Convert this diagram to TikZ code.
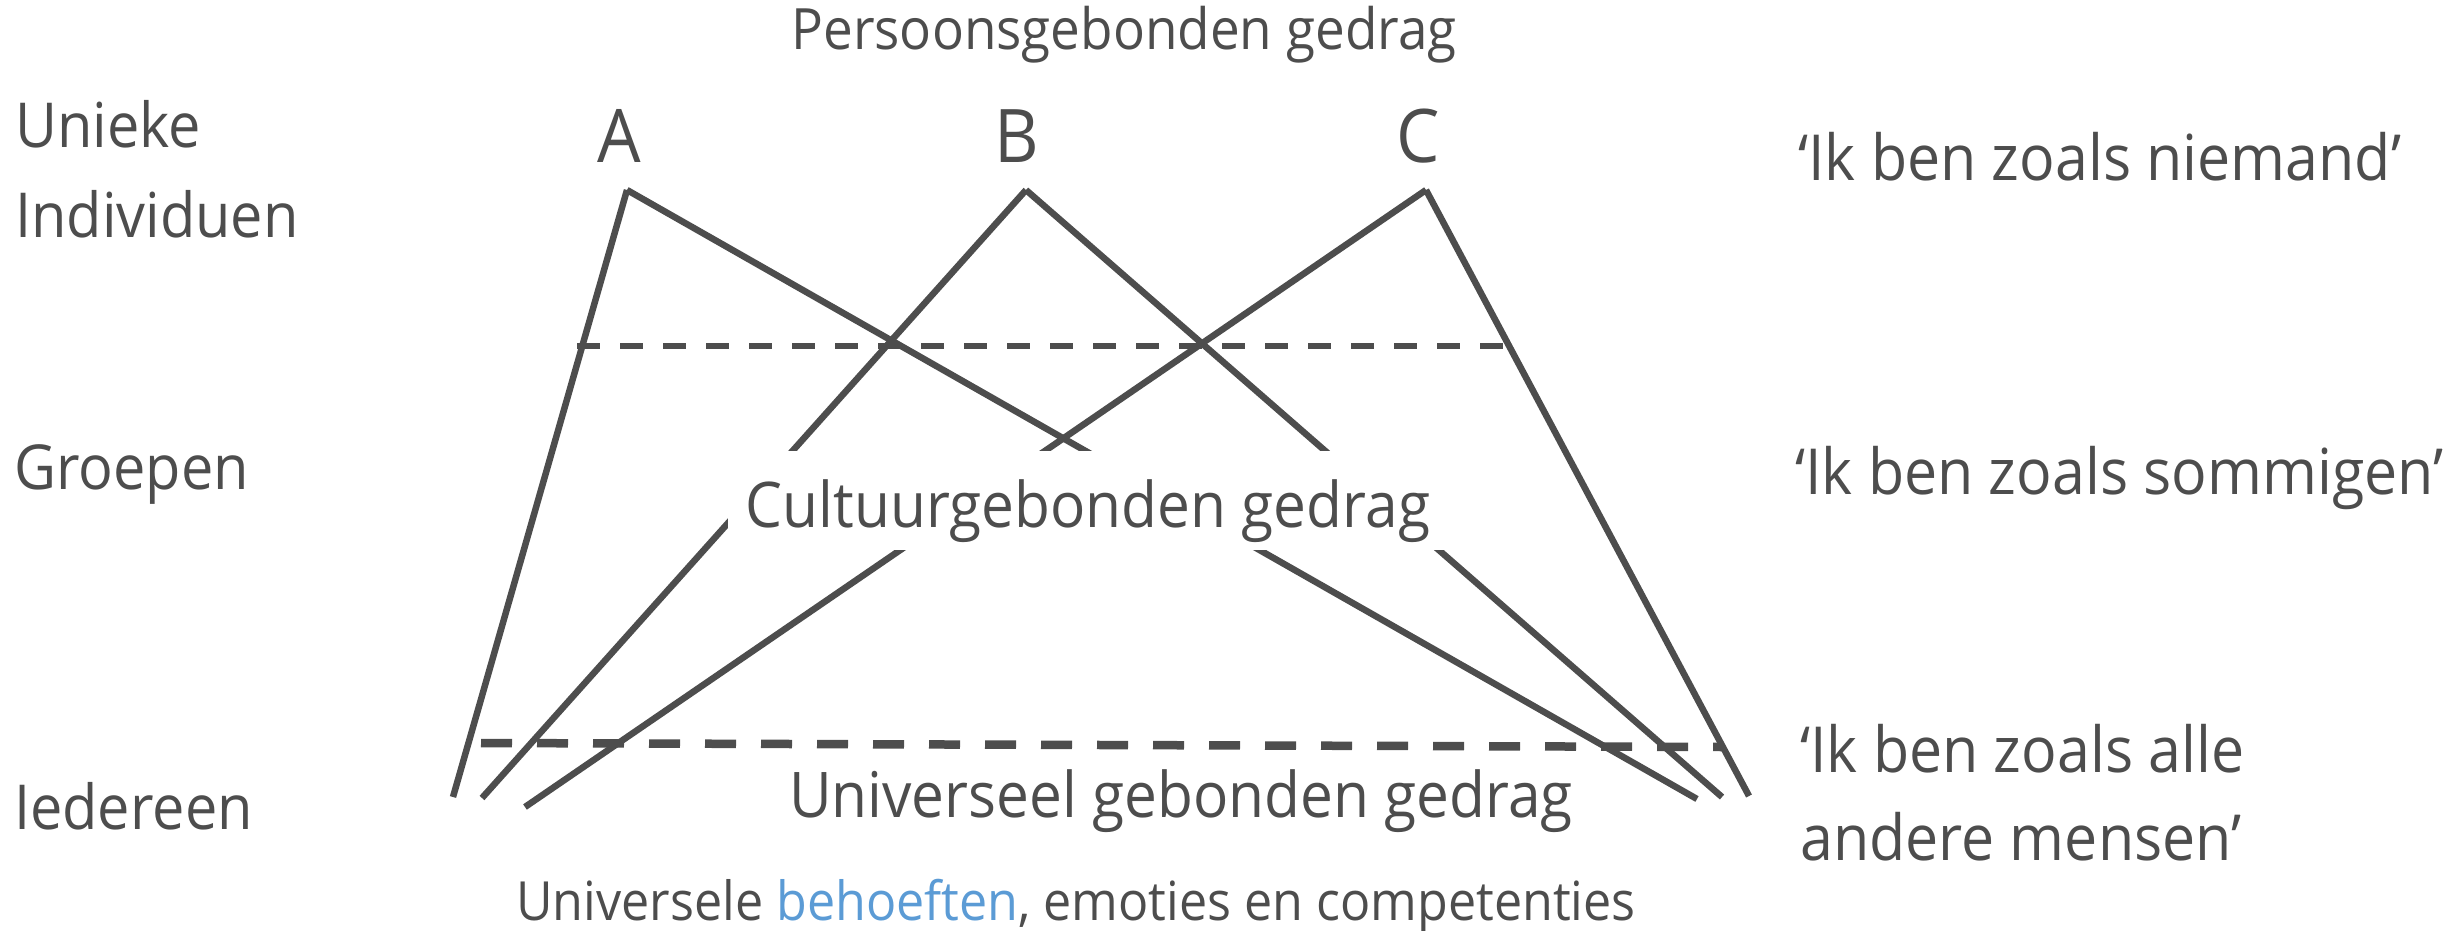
\documentclass[tikz,border=0pt]{standalone}
\usepackage{fontspec}
\setmainfont{Open Sans}[FakeStretch=0.93]
\definecolor{ink}{RGB}{77,77,77}
\definecolor{blu}{RGB}{91,155,213}
\tikzset{
  lbl/.style={inner sep=0pt, text=ink, font=\fontsize{62}{74}\selectfont},
  rgt/.style={inner sep=0pt, text=ink, font=\fontsize{63.5}{74}\selectfont},
  mid/.style={inner sep=0pt, text=ink, font=\fontsize{63}{74}\selectfont},
  sml/.style={inner sep=0pt, text=ink, font=\fontsize{54}{64}\selectfont},
  ttl/.style={inner sep=0pt, text=ink, font=\fontsize{57}{64}\selectfont},
  big/.style={inner sep=0pt, text=ink, font=\fontsize{74}{88}\selectfont},
  edge/.style={draw=ink, line width=6.5},
  thindash/.style={draw=ink, line width=6, dash pattern=on 23 off 20},
  thickdash/.style={draw=ink, line width=8.5, dash pattern=on 31 off 25},
}
\begin{document}
\begin{tikzpicture}[x=1pt,y=-1pt]
\useasboundingbox (0,0) rectangle (2458,931);
% apexes and feet
\coordinate (A) at (627,190);
\coordinate (B) at (1026,190);
\coordinate (C) at (1426,190);
\coordinate (Al) at (453,797);
\coordinate (Bl) at (482,798);
\coordinate (Cl) at (525,807);
\coordinate (Ar) at (1697,799);
\coordinate (Br) at (1722,797);
\coordinate (Cr) at (1749,796);
\coordinate (d1) at (577,346);
\coordinate (d2) at (1505,346);
\coordinate (d3) at (481,743);
\coordinate (d4) at (1722,747);
% lines
\draw[edge] (A) -- (Al);
\draw[edge] (A) -- (Ar);
\draw[edge] (B) -- (Bl);
\draw[edge] (B) -- (Br);
\draw[edge] (C) -- (Cl);
\draw[edge] (C) -- (Cr);
\draw[thindash] (d1) -- (d2);
\draw[thickdash] (d3) -- (d4);
% white mask behind middle label
\fill[white] (728,451) rectangle (1450,550);
% labels
\node[ttl, anchor=base] (pers) at (1124,50) {Persoonsgebonden gedrag};
\node[big, anchor=base] (la) at (619,162) {A};
\node[big, anchor=base] (lb) at (1017,162) {B};
\node[big, anchor=base] (lc) at (1418,162) {C};
\node[mid, anchor=base] (cult) at (1088,527) {Cultuurgebonden gedrag};
\node[mid, anchor=base] (univ) at (1181,817) {Universeel gebonden gedrag};
\node[sml, anchor=base] (bot) at (1076,920) {Universele \textcolor{blu}{behoeften}, emoties en competenties};
\node[lbl, anchor=base west] (l1) at (15,147) {Unieke};
\node[lbl, anchor=base west] (l2) at (15,237) {Individuen};
\node[lbl, anchor=base west] (l3) at (14,489) {Groepen};
\node[lbl, anchor=base west] (l4) at (14,829) {Iedereen};
\node[rgt, anchor=base west] (r1) at (1798,180) {‘Ik ben zoals niemand’};
\node[rgt, anchor=base west] (r2) at (1795,494) {‘Ik ben zoals sommigen’};
\node[rgt, anchor=base west] (r3) at (1800,772) {‘Ik ben zoals alle};
\node[rgt, anchor=base west] (r4) at (1800,860) {andere mensen’};
\end{tikzpicture}
\end{document}
